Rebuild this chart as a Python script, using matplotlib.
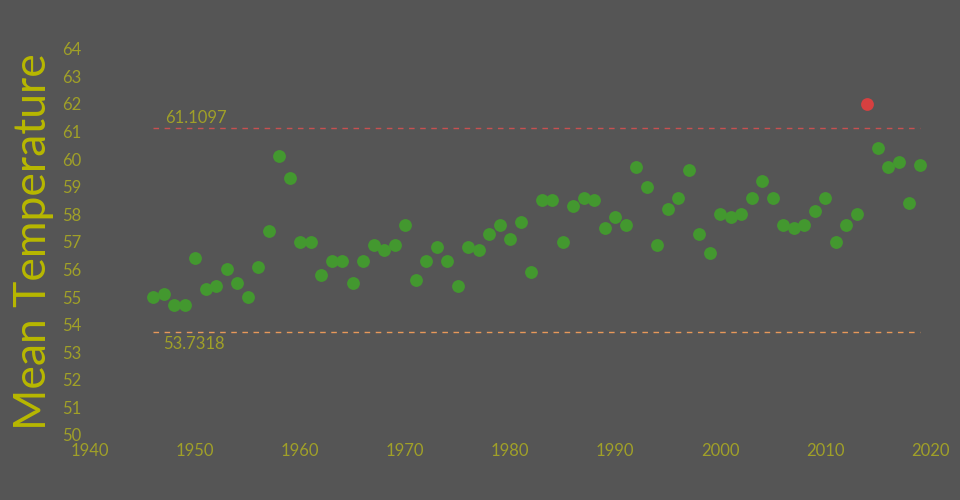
import numpy as np
import matplotlib
matplotlib.use("Agg")
import matplotlib.pyplot as plt

# ---------------------------------------------------
# Data: yearly mean temperature
# ---------------------------------------------------
years = list(range(1946, 2020))
temps = [
    55.0, 55.1, 54.7, 54.7, 56.4, 55.3, 55.4, 56.0, 55.5, 55.0,   # 1946-1955
    56.1, 57.4, 60.1, 59.3, 57.0, 57.0, 55.8, 56.3, 56.3, 55.5,   # 1956-1965
    56.3, 56.9, 56.7, 56.9, 57.6, 55.6, 56.3, 56.8, 56.3, 55.4,   # 1966-1975
    56.8, 56.7, 57.3, 57.6, 57.1, 57.7, 55.9, 58.5, 58.5, 57.0,   # 1976-1985
    58.3, 58.6, 58.5, 57.5, 57.9, 57.6, 59.7, 59.0, 56.9, 58.2,   # 1986-1995
    58.6, 59.6, 57.3, 56.6, 58.0, 57.9, 58.0, 58.6, 59.2, 58.6,   # 1996-2005
    57.6, 57.5, 57.6, 58.1, 58.6, 57.0, 57.6, 58.0, 62.0, 60.4,   # 2006-2015
    59.7, 59.9, 58.4, 59.8,                                       # 2016-2019
]
upper_limit = 61.1097
lower_limit = 53.7318

yrs = np.array(years)
t = np.array(temps)
outlier = (t > upper_limit) | (t < lower_limit)

# ---------------------------------------------------
# Styling
# ---------------------------------------------------
bg = "#555555"
tick_col = "#a0a028"
label_col = "#b8b800"
plt.rcParams['font.family'] = ['Lato', 'DejaVu Sans']

fig = plt.figure(figsize=(9.6, 5), dpi=100, facecolor=bg)
ax = fig.add_axes([90 / 960, 65 / 500, 840 / 960, 386.4 / 500])
ax.set_facecolor(bg)

ax.scatter(yrs[~outlier], t[~outlier], s=85, color="#43982f", zorder=3, linewidths=0)
ax.scatter(yrs[outlier], t[outlier], s=85, color="#d64040", zorder=3, linewidths=0)

ax.plot([yrs.min(), yrs.max()], [upper_limit, upper_limit], ls=(0, (4, 4)), color="#c85050", lw=1)
ax.plot([yrs.min(), yrs.max()], [lower_limit, lower_limit], ls=(0, (4, 4)), color="#e8985a", lw=1)
ax.text(yrs.min() + 1.2, upper_limit + 0.1, f"{upper_limit}", color=tick_col,
        fontsize=12, va='bottom', ha='left')
ax.text(yrs.min() + 1.0, lower_limit - 0.15, f"{lower_limit}", color=tick_col,
        fontsize=12, va='top', ha='left')

ax.set_xlim(1940, 2020)
ax.set_ylim(50, 64)
ax.set_xticks(range(1940, 2021, 10))
ax.set_yticks(range(50, 65))
for s in ax.spines.values():
    s.set_visible(False)
ax.tick_params(length=0, colors=tick_col, labelsize=12, pad=6)

ax.set_ylabel("Mean Temperature", color=label_col, fontsize=32, fontweight='normal', labelpad=6)

fig.savefig("out.png", dpi=100, facecolor=bg)
